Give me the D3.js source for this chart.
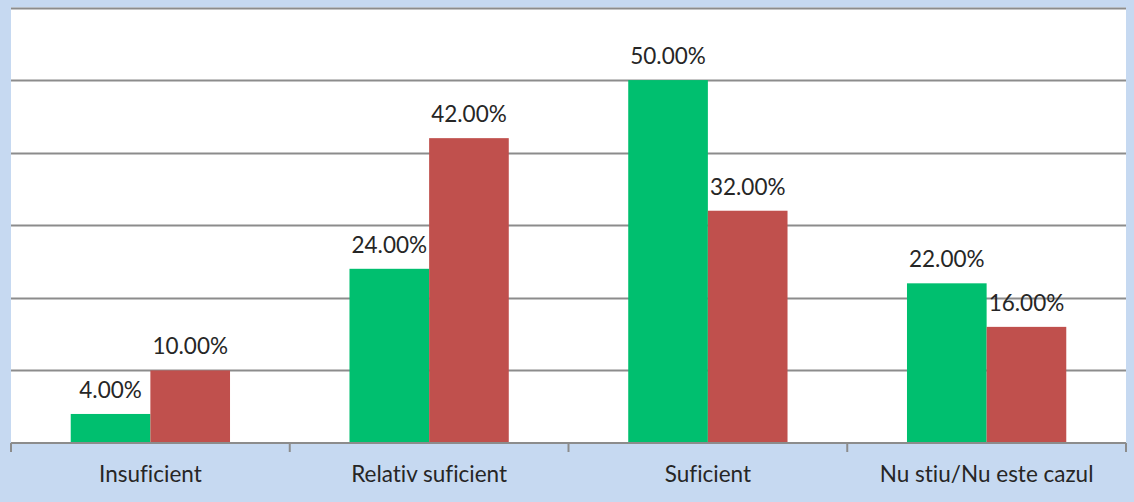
<!DOCTYPE html>
<html><head><meta charset="utf-8">
<script src="https://cdn.jsdelivr.net/npm/d3@7"></script>
<style>
html,body{margin:0;padding:0;background:#c6d9f1;}
svg{display:block;}
text{font-variant-ligatures:none;font-feature-settings:"liga" 0;}
</style></head>
<body>
<script>
const categories = ["Insuficient", "Relativ suficient", "Suficient", "Nu stiu/Nu este cazul"];
const seriesNames = ["Seria 1", "Seria 2"];
const series1 = [4, 24, 50, 22];
const series2 = [10, 42, 32, 16];
const yTicks = [0, 10, 20, 30, 40, 50, 60];
const colors = ["#00bf6f", "#c0504d"];

(function(){
const W = 1134, H = 502;
const pLeft = 11, pRight = 1126, pTop = 7.5, pBottom = 443;

const svg = d3.select("body").append("svg").attr("width", W).attr("height", H);
svg.append("rect").attr("width", W).attr("height", H).attr("fill", "#c6d9f1");

const x0 = d3.scaleBand().domain(categories).range([pLeft, pRight]).padding(0);
const x1 = d3.scaleBand().domain(seriesNames).range([0, x0.bandwidth()]).paddingInner(0).paddingOuter(0.75);
const y = d3.scaleLinear().domain([0, 60]).range([pBottom, pTop]);

svg.append("rect").attr("x", pLeft).attr("y", pTop).attr("width", pRight - pLeft).attr("height", pBottom - pTop).attr("fill", "#ffffff");

svg.append("g").selectAll("line").data(yTicks.filter(d => d > 0)).join("line")
  .attr("x1", pLeft).attr("x2", pRight)
  .attr("y1", d => Math.round(y(d)) + 0.5).attr("y2", d => Math.round(y(d)) + 0.5)
  .attr("stroke", "#8c8c8c").attr("stroke-width", 2);

const data = categories.map((c, i) => ({cat: c, vals: [series1[i], series2[i]]}));

const g = svg.append("g").selectAll("g").data(data).join("g")
  .attr("transform", d => `translate(${x0(d.cat)},0)`);

g.selectAll("rect").data(d => d.vals.map((v, j) => ({v, s: seriesNames[j], j}))).join("rect")
  .attr("x", d => x1(d.s)).attr("width", x1.bandwidth())
  .attr("y", d => y(d.v)).attr("height", d => pBottom - y(d.v))
  .attr("fill", d => colors[d.j]);

g.selectAll("text").data(d => d.vals.map((v, j) => ({v, s: seriesNames[j], j}))).join("text")
  .attr("x", d => x1(d.s) + x1.bandwidth() / 2)
  .attr("y", d => y(d.v) - 16)
  .attr("text-anchor", "middle")
  .attr("font-family", "Lato, 'Open Sans', sans-serif")
  .attr("font-size", 22.5)
  .attr("fill", "#262626")
  .text(d => d.v.toFixed(2) + "%");

const ax = svg.append("g").attr("transform", `translate(0,${pBottom})`);
ax.append("line").attr("x1", pLeft).attr("x2", pRight).attr("y1", 0).attr("y2", 0)
  .attr("stroke", "#8c8c8c").attr("stroke-width", 2);
const tickPos = categories.map(c => x0(c)).concat([pRight]);
ax.selectAll("line.tick").data(tickPos).join("line").attr("class", "tick")
  .attr("x1", d => d).attr("x2", d => d).attr("y1", 0).attr("y2", 9)
  .attr("stroke", "#8c8c8c").attr("stroke-width", 2);
ax.selectAll("text.cat").data(categories).join("text").attr("class", "cat")
  .attr("x", d => x0(d) + x0.bandwidth() / 2)
  .attr("y", 39)
  .attr("text-anchor", "middle")
  .attr("font-family", "Lato, 'Open Sans', sans-serif")
  .attr("font-size", 22.5)
  .attr("fill", "#262626")
  .text(d => d);
})();
</script>
</body></html>
